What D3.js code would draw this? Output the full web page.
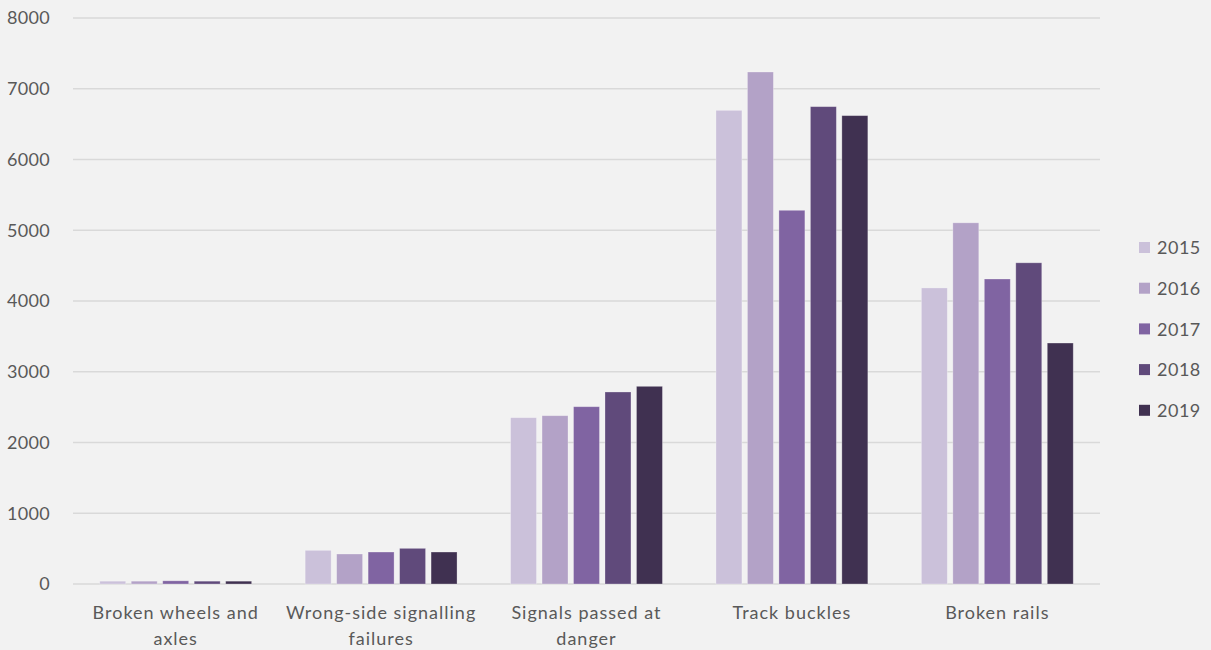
<!DOCTYPE html>
<html><head><meta charset="utf-8">
<script src="https://cdn.jsdelivr.net/npm/d3@7"></script>
<style>
html,body{margin:0;padding:0;background:#f2f2f2;}
svg{display:block;font-family:Lato,"Open Sans",sans-serif;}
</style></head><body>
<svg id="chart" width="1211" height="650"></svg>
<script>
const categories = ["Broken wheels and axles","Wrong-side signalling failures","Signals passed at danger","Track buckles","Broken rails"];
const categoryLines = [["Broken wheels and","axles"],["Wrong-side signalling","failures"],["Signals passed at","danger"],["Track buckles"],["Broken rails"]];
const years = ["2015","2016","2017","2018","2019"];
const v2015 = [40, 476, 2351, 6695, 4185];
const v2016 = [40, 424, 2379, 7237, 5105];
const v2017 = [45, 452, 2506, 5282, 4311];
const v2018 = [40, 504, 2714, 6747, 4540];
const v2019 = [40, 452, 2794, 6620, 3406];
const seriesValues = [v2015, v2016, v2017, v2018, v2019];
const yTicks = [0,1000,2000,3000,4000,5000,6000,7000,8000];
const colors = ["#cbc1da","#b3a2c7","#8064a2","#604a7b","#403151"];

(function(){
const svg = d3.select("#chart");
const mLeft = 73, mRight = 1100, mTop = 18, mBottom = 584;
const x0 = d3.scaleBand().domain(categories).range([mLeft, mRight]).paddingInner(0).paddingOuter(0);
const x1 = d3.scaleBand().domain(years).range([0, x0.bandwidth()]).paddingInner(0.175).paddingOuter(0.85);
const y = d3.scaleLinear().domain([0, 8000]).range([mBottom, mTop]);

svg.append("g").selectAll("line").data(yTicks).join("line")
  .attr("x1", mLeft).attr("x2", mRight)
  .attr("y1", d => y(d)).attr("y2", d => y(d))
  .attr("stroke", "#d9d9d9").attr("stroke-width", 1.3);

const yAxis = d3.axisLeft(y).tickValues(yTicks).tickSize(0).tickPadding(0).tickFormat(d3.format("d"));
const ya = svg.append("g").attr("transform", "translate(50,0)").call(yAxis);
ya.select(".domain").remove();
ya.selectAll("text").attr("fill", "#595959").style("font-size", "18px").style("font-family", "Lato").style("letter-spacing", "0.3px");

const groups = svg.append("g").selectAll("g").data(categories).join("g")
  .attr("transform", d => `translate(${x0(d)},0)`);
groups.selectAll("rect").data((c, ci) => years.map((yr, si) => ({yr, si, v: seriesValues[si][ci]})))
  .join("rect")
  .attr("x", d => x1(d.yr))
  .attr("width", x1.bandwidth())
  .attr("y", d => y(d.v))
  .attr("height", d => y(0) - y(d.v))
  .attr("fill", d => colors[d.si])
  .attr("stroke", "rgba(255,255,255,0.35)").attr("stroke-width", 0.8);

const xl = svg.append("g");
categories.forEach((c, i) => {
  const cx = x0(c) + x0.bandwidth() / 2;
  const t = xl.append("text")
    .attr("x", cx).attr("y", 619)
    .attr("text-anchor", "middle")
    .attr("fill", "#595959")
    .style("font-size", "18px")
    .style("letter-spacing", "1px");
  categoryLines[i].forEach((ln, j) => {
    t.append("tspan").attr("x", cx).attr("dy", j === 0 ? 0 : 26).text(ln);
  });
});

const leg = svg.append("g").selectAll("g").data(years).join("g")
  .attr("transform", (d, i) => `translate(1139,${248 + i * 40.7})`);
leg.append("rect").attr("x", 0).attr("y", -6).attr("width", 11).attr("height", 11)
  .attr("fill", (d, i) => colors[i]);
leg.append("text").attr("x", 18).attr("y", 0).attr("dy", "0.35em")
  .attr("fill", "#595959").style("font-size", "18px").style("letter-spacing", "0.5px").text(d => d);
})();
</script>
</body></html>
